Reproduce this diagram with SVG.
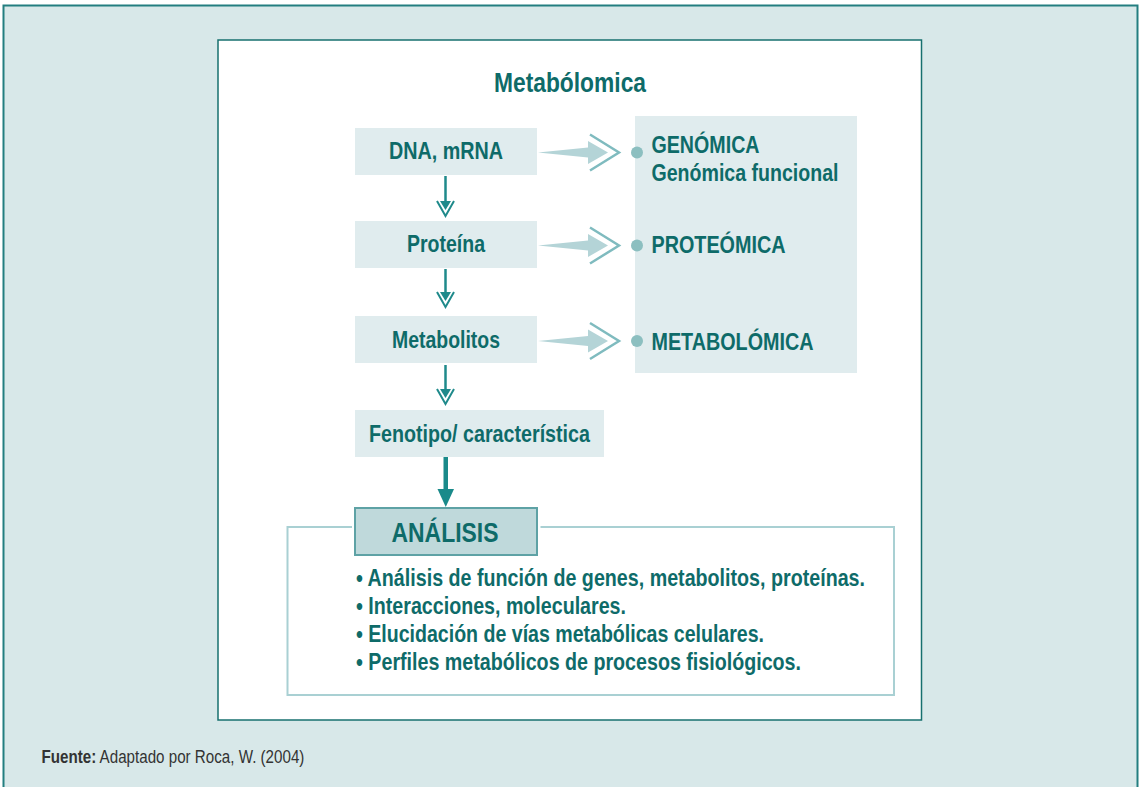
<svg xmlns="http://www.w3.org/2000/svg" xmlns:xlink="http://www.w3.org/1999/xlink" width="1142" height="787" viewBox="0 0 1142 787">
  <style>
    .t { font-family: "Liberation Sans Narrow", "Liberation Sans", Arial, sans-serif; font-weight: bold; fill: #0e6b69; }
    .box { fill: #e0ecee; }
    .shaft { stroke: #1f8a8b; stroke-width: 2.5; fill: none; }
    .foot { font-family: "Liberation Sans", Arial, sans-serif; fill: #333333; font-size: 18.5px; }
  </style>
  <defs>
    <g id="downHead">
      <polygon points="-5.5,0 5.5,0 0,9" fill="#1f8a8b"/>
      <polyline points="-8.5,0 0,15 8.5,0" fill="none" stroke="#1f8a8b" stroke-width="2"/>
    </g>
    <g id="rightArrow">
      <polygon points="538,0 588,-5 588,-11.5 608,0 588,11.5 588,5" fill="#b4d4d7"/>
      <polyline points="590,-18 619,0 590,18" fill="none" stroke="#7fbbbf" stroke-width="2.5"/>
      <circle cx="637" cy="0" r="6" fill="#8cbfc0"/>
    </g>
  </defs>

  <!-- outer frame -->
  <rect id="frame" x="3.5" y="5.5" width="1134" height="790" fill="#d8e8e9" stroke="#237e80" stroke-width="2"/>
  <!-- inner white panel -->
  <rect id="panel" x="218" y="40" width="703.5" height="680" fill="#ffffff" stroke="#17706f" stroke-width="1.5"/>

  <text id="title" class="t" x="570" y="92" font-size="27" text-anchor="middle" textLength="152" lengthAdjust="spacingAndGlyphs">Metabólomica</text>

  <!-- right panel -->
  <g id="omics">
    <rect x="635" y="116" width="222" height="257" class="box"/>
    <text class="t" x="651.5" y="153" font-size="24" textLength="108" lengthAdjust="spacingAndGlyphs">GENÓMICA</text>
    <text class="t" x="651.5" y="181" font-size="24" textLength="187" lengthAdjust="spacingAndGlyphs">Genómica funcional</text>
    <text class="t" x="651.5" y="253" font-size="24" textLength="134" lengthAdjust="spacingAndGlyphs">PROTEÓMICA</text>
    <text class="t" x="651.5" y="350" font-size="24" textLength="162" lengthAdjust="spacingAndGlyphs">METABOLÓMICA</text>
  </g>

  <g id="n-dna">
    <rect x="355" y="128" width="182" height="47" class="box"/>
    <text class="t" x="446" y="159" font-size="24" text-anchor="middle" textLength="114" lengthAdjust="spacingAndGlyphs">DNA, mRNA</text>
  </g>
  <g id="n-proteina">
    <rect x="355" y="221" width="182" height="47" class="box"/>
    <text class="t" x="446" y="252" font-size="24" text-anchor="middle" textLength="78" lengthAdjust="spacingAndGlyphs">Proteína</text>
  </g>
  <g id="n-metabolitos">
    <rect x="355" y="316" width="182" height="47" class="box"/>
    <text class="t" x="446" y="347.5" font-size="24" text-anchor="middle" textLength="108" lengthAdjust="spacingAndGlyphs">Metabolitos</text>
  </g>
  <g id="n-fenotipo">
    <rect x="355" y="410" width="249" height="47" class="box"/>
    <text class="t" x="479.5" y="442" font-size="24" text-anchor="middle" textLength="221" lengthAdjust="spacingAndGlyphs">Fenotipo/ característica</text>
  </g>

  <g id="n-analisis">
    <path d="M352,527 H287.5 V695 H894 V527 H540.5" fill="none" stroke="#a9d0d3" stroke-width="2"/>
    <rect x="355" y="508" width="182" height="47" fill="#bfd9db" stroke="#5ea2a5" stroke-width="2"/>
    <text class="t" x="445" y="541.5" font-size="28" text-anchor="middle" textLength="107" lengthAdjust="spacingAndGlyphs">ANÁLISIS</text>
    <text class="t" x="356" y="586" font-size="24" textLength="509" lengthAdjust="spacingAndGlyphs">• Análisis de función de genes, metabolitos, proteínas.</text>
    <text class="t" x="356" y="614" font-size="24" textLength="270" lengthAdjust="spacingAndGlyphs">• Interacciones, moleculares.</text>
    <text class="t" x="356" y="642" font-size="24" textLength="408" lengthAdjust="spacingAndGlyphs">• Elucidación de vías metabólicas celulares.</text>
    <text class="t" x="356" y="670" font-size="24" textLength="445" lengthAdjust="spacingAndGlyphs">• Perfiles metabólicos de procesos fisiológicos.</text>
  </g>

  <g id="connectors">
    <line class="shaft" x1="445.5" y1="176" x2="445.5" y2="204"/>
    <use xlink:href="#downHead" href="#downHead" transform="translate(445.5,201)"/>
    <line class="shaft" x1="445.5" y1="269" x2="445.5" y2="295"/>
    <use xlink:href="#downHead" href="#downHead" transform="translate(445.5,292)"/>
    <line class="shaft" x1="445.5" y1="365" x2="445.5" y2="392"/>
    <use xlink:href="#downHead" href="#downHead" transform="translate(445.5,389)"/>

    <rect x="443.5" y="457" width="4.5" height="34" fill="#1a8a8a"/>
    <polygon points="437.5,489 454,489 445.75,507" fill="#1a8a8a"/>

    <use xlink:href="#rightArrow" href="#rightArrow" transform="translate(0,152.5)"/>
    <use xlink:href="#rightArrow" href="#rightArrow" transform="translate(0,245.5)"/>
    <use xlink:href="#rightArrow" href="#rightArrow" transform="translate(0,341)"/>
  </g>

  <text id="source" class="foot" transform="translate(41.5,763) scale(0.82,1)"><tspan font-weight="bold">Fuente:</tspan> Adaptado por Roca, W. (2004)</text>
</svg>
